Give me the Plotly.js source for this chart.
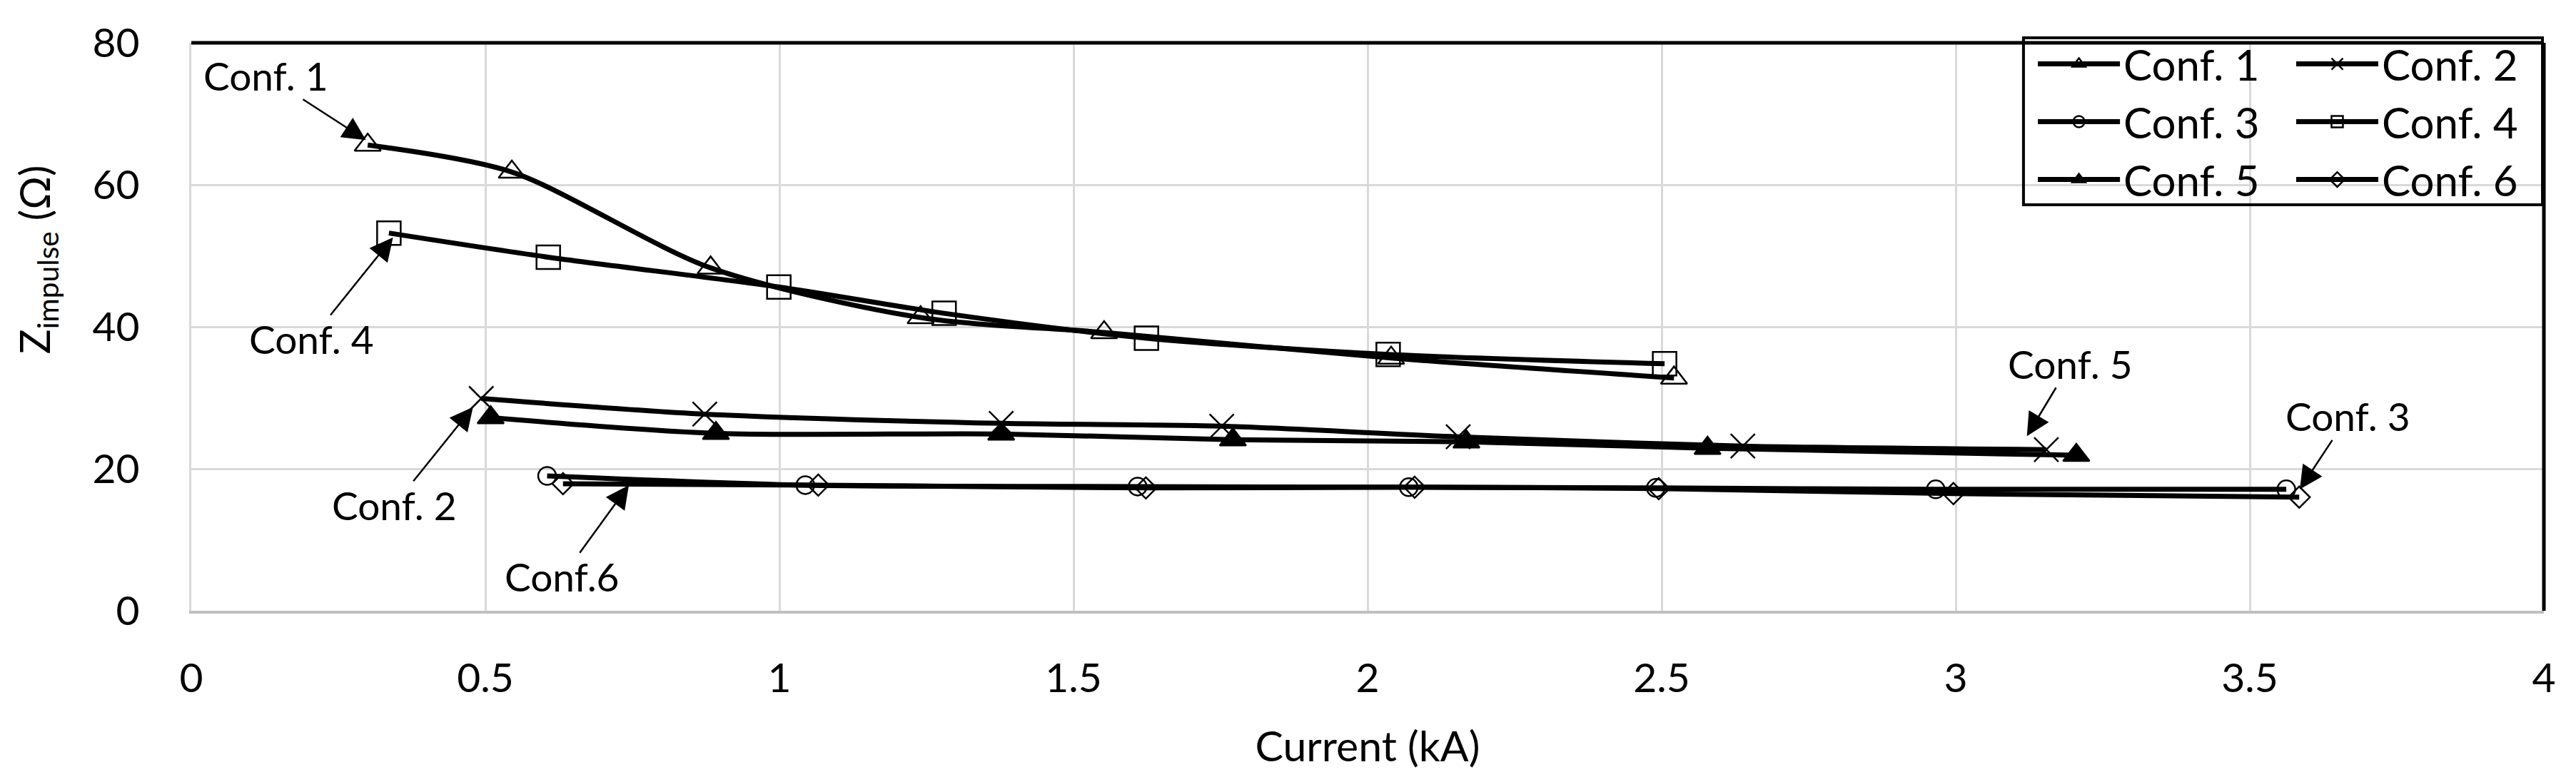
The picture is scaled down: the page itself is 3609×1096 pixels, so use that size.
<!DOCTYPE html>
<html><head><meta charset="utf-8">
<script src="https://cdn.plot.ly/plotly-3.0.1.min.js"></script>
<style>html,body{margin:0;padding:0;background:#fff}#chart{width:3609px;height:1096px}</style>
</head><body><div id="chart"></div>
<script>
// Data (Current in kA, Z_impulse in ohm)
const conf1X = [0.300, 0.545, 0.883, 1.240, 1.552, 2.040, 2.521];
const conf1Y = [65.6, 61.8, 48.3, 41.3, 39.2, 35.6, 32.8];
const conf2X = [0.493, 0.873, 1.377, 1.752, 2.154, 2.638, 3.154];
const conf2Y = [29.9, 27.7, 26.4, 26.0, 24.5, 23.2, 22.7];
const conf3X = [0.605, 1.044, 1.609, 2.070, 2.490, 2.966, 3.562];
const conf3Y = [19.0, 17.7, 17.5, 17.4, 17.3, 17.1, 17.1];
const conf4X = [0.336, 0.607, 0.999, 1.280, 1.624, 2.035, 2.505];
const conf4Y = [53.2, 49.8, 45.6, 41.9, 38.4, 36.1, 34.8];
const conf5X = [0.509, 0.892, 1.377, 1.771, 2.168, 2.578, 3.205];
const conf5Y = [27.2, 25.0, 24.9, 24.1, 23.8, 22.9, 21.9];
const conf6X = [0.632, 1.066, 1.623, 2.080, 2.495, 2.996, 3.584];
const conf6Y = [17.9, 17.7, 17.3, 17.4, 17.2, 16.5, 16.0];

const seriesNames = ["Conf. 1", "Conf. 2", "Conf. 3", "Conf. 4", "Conf. 5", "Conf. 6"];
const xTickVals = [0, 0.5, 1, 1.5, 2, 2.5, 3, 3.5, 4];
const xTickText = ["0", "0.5", "1", "1.5", "2", "2.5", "3", "3.5", "4"];
const yTickVals = [0, 20, 40, 60, 80];
const xTitle = "Current (kA)";
const yTitle = "Z<sub>impulse</sub> (Ω)";

// callout labels: text, label centre (data units), arrow tip (data units)
const calloutText = ["Conf. 1", "Conf. 4", "Conf. 2", "Conf.6", "Conf. 5", "Conf. 3"];
const calloutTextX = [0.127, 0.204, 0.345, 0.631, 3.195, 3.667];
const calloutTextY = [75.4, 38.3, 14.9, 4.8, 34.8, 27.4];
const calloutTipX = [0.297, 0.343, 0.479, 0.744, 3.121, 3.585];
const calloutTipY = [66.3, 52.6, 28.7, 17.7, 24.6, 17.1];

const FONT = "Lato, 'Open Sans', sans-serif";
const LW = 7;

function mk(x, y, name, symbol, size, legend) {
  return {
    x: x, y: y, name: name, type: "scatter", mode: "lines+markers",
    line: {color: "#000", width: LW, shape: "spline", smoothing: 0.8},
    marker: {symbol: symbol, size: size, color: "#000", line: {color: "#000", width: 2.5}},
    legend: legend
  };
}

const traces = [
  mk(conf1X, conf1Y, seriesNames[0], "triangle-up-open", 32, "legend"),
  mk(conf3X, conf3Y, seriesNames[2], "circle-open", 25, "legend"),
  mk(conf5X, conf5Y, seriesNames[4], "triangle-up", 32, "legend"),
  mk(conf2X, conf2Y, seriesNames[1], "x-thin-open", 34, "legend2"),
  mk(conf4X, conf4Y, seriesNames[3], "square-open", 33, "legend2"),
  mk(conf6X, conf6Y, seriesNames[5], "diamond-open", 23, "legend2")
];

const annotations = [];
for (let i = 0; i < calloutText.length; i++) {
  annotations.push({
    x: calloutTipX[i], y: calloutTipY[i], xref: "x", yref: "y",
    ax: calloutTextX[i], ay: calloutTextY[i], axref: "x", ayref: "y",
    text: calloutText[i], showarrow: true, arrowhead: 2, arrowsize: 2.6,
    arrowwidth: 2.5, arrowcolor: "#000", borderpad: 0,
    font: {family: FONT, size: 55, color: "#000"}
  });
}
annotations.push({
  text: yTitle, textangle: -90, xref: "paper", yref: "paper",
  x: -0.0655, y: 0.618, xanchor: "center", yanchor: "middle", showarrow: false,
  font: {family: FONT, size: 58, color: "#000"}
});

const legendCommon = {
  yanchor: "top", xanchor: "left", bgcolor: "rgba(0,0,0,0)", borderwidth: 0,
  font: {family: FONT, size: 60, color: "#000"}, itemwidth: 115, orientation: "v",
  tracegroupgap: 0
};

const layout = {
  width: 3609, height: 1096,
  margin: {l: 268, r: 45, t: 60, b: 240, pad: 0},
  paper_bgcolor: "#fff", plot_bgcolor: "#fff",
  font: {family: FONT, size: 57, color: "#000"},
  showlegend: true,
  legend: Object.assign({x: 0.7834, y: 1.02}, legendCommon),
  legend2: Object.assign({x: 0.8932, y: 1.02}, legendCommon),
  xaxis: {
    range: [0, 4], tickvals: xTickVals, ticktext: xTickText, showgrid: true,
    gridcolor: "#d9d9d9", gridwidth: 3, zeroline: false, showline: true,
    linecolor: "#bfbfbf", linewidth: 4, ticks: "", ticklabelstandoff: 42,
    tickfont: {family: FONT, size: 57, color: "#000"}, fixedrange: true,
    title: {text: xTitle, font: {family: FONT, size: 59, color: "#000"}, standoff: 45}
  },
  yaxis: {
    range: [0, 80], tickvals: yTickVals, showgrid: true,
    gridcolor: "#d9d9d9", gridwidth: 3, zeroline: false, showline: true,
    linecolor: "#d9d9d9", linewidth: 3, ticks: "", ticklabelstandoff: 58,
    tickfont: {family: FONT, size: 57, color: "#000"}, fixedrange: true
  },
  shapes: [
    {type: "line", xref: "paper", yref: "paper", x0: 0, x1: 1, y0: 1, y1: 1, line: {color: "#000", width: 5}},
    {type: "line", xref: "paper", yref: "paper", x0: 1, x1: 1, y0: 0, y1: 1, line: {color: "#000", width: 5}},
    {type: "rect", xref: "paper", yref: "paper", x0: 0.7788, x1: 0.9994, y0: 0.7148, y1: 1.0088,
     line: {color: "#000", width: 4}, fillcolor: "rgba(0,0,0,0)"}
  ],
  annotations: annotations
};

Plotly.newPlot("chart", traces, layout, {staticPlot: true, displayModeBar: false});
</script>
</body></html>
